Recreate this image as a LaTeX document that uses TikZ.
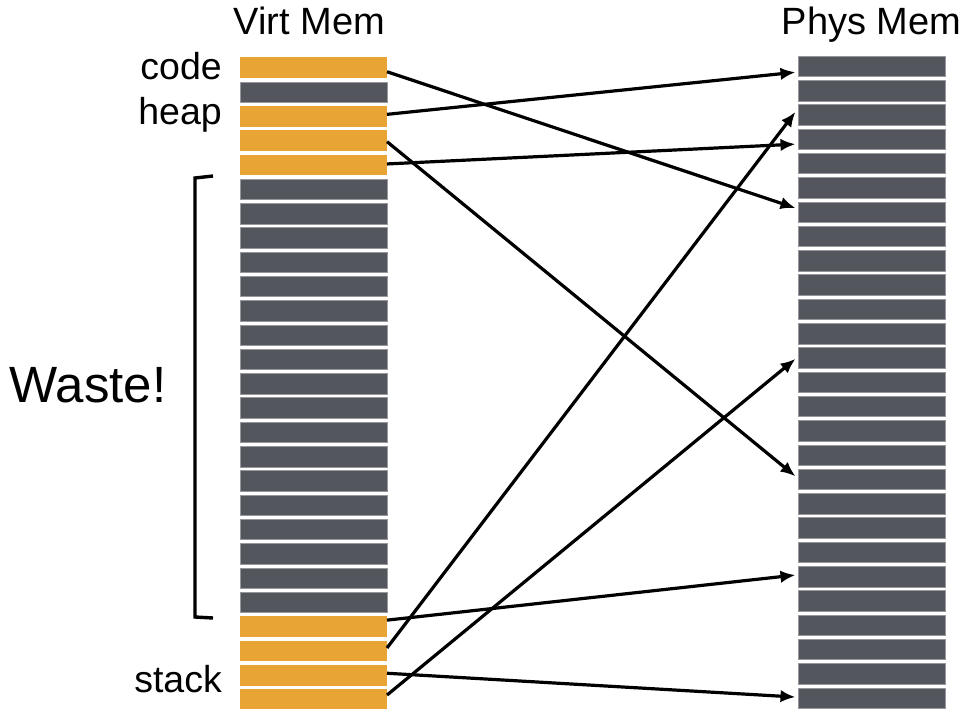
\documentclass[tikz,border=0pt]{standalone}
\usepackage{fontspec}
\setmainfont{Liberation Sans}
\usetikzlibrary{arrows.meta}
\definecolor{pageorange}{RGB}{233,165,52}
\definecolor{pagegray}{RGB}{83,87,93}
\definecolor{pageedge}{RGB}{150,152,156}
\begin{document}
\begin{tikzpicture}[x=1pt,y=-1pt,
  rowbox/.style={rectangle, inner sep=0pt, outer sep=0pt,
    minimum width=147pt, minimum height=20.5pt},
  used/.style={rowbox, fill=pageorange},
  free/.style={rowbox, fill=pagegray, draw=pageedge, line width=0.5pt},
  title/.style={inner sep=0pt, font=\fontsize{38}{40}\selectfont, anchor=base},
  seglabel/.style={inner sep=0pt, font=\fontsize{37.5}{40}\selectfont, anchor=base east},
  link/.style={line width=3.2pt, -{Latex[length=15pt,width=12.5pt]}}]
\useasboundingbox (0,0) rectangle (969,709);

% virtual memory column: code, gap, heap (3 pages), unused, stack (4 pages)
\foreach \i in {0,...,26} {
  \pgfmathtruncatemacro{\isused}{(\i==0)||(\i>=2 && \i<=4)||(\i>=23)}
  \ifnum\isused=1
    \node[used] (v\i) at (313.5, 67.75+24.3*\i) {};
  \else
    \node[free] (v\i) at (313.5, 67.75+24.3*\i) {};
  \fi
}

% physical memory column
\foreach \i in {0,...,26} {
  \node[free] (p\i) at (872, 66.25+24.3*\i) {};
}

% titles and segment labels
\node[title] (vt) at (309.5,35) {Virt Mem};
\node[title] (pt) at (871.5,35) {Phys Mem};
\node[seglabel] (lcode) at (222,79) {code};
\node[seglabel] (lheap) at (222,124) {heap};
\node[seglabel] (lstack) at (222,692.7) {stack};
\node[inner sep=0pt, font=\fontsize{51}{54}\selectfont, anchor=base] (lwaste) at (88,402) {Waste!};

% bracket around the unused range
\draw[line width=3.4pt] (213,176) -- (195,178) -- (195,617) -- (213,618);

% page mappings
\draw[link] ([yshift=-4pt]v0.east) -- ([xshift=-3pt,yshift=4pt]p6.west);
\draw[link] ([yshift=2pt]v2.east) -- ([xshift=-3pt,yshift=-6pt]p0.west);
\draw[link] ([yshift=-1pt]v3.east) -- ([xshift=-3pt,yshift=3pt]p17.west);
\draw[link] ([yshift=1pt]v4.east) -- ([xshift=-3pt,yshift=-5pt]p3.west);
\draw[link] ([yshift=6.5pt]v23.east) -- ([xshift=-3pt,yshift=1.5pt]p21.west);
\draw[link] ([yshift=3pt]v24.east) -- ([xshift=-3pt,yshift=3pt]p2.west);
\draw[link] ([yshift=2pt]v25.east) -- ([xshift=-3pt,yshift=1pt]p26.west);
\draw[link] ([yshift=4.5pt]v26.east) -- ([xshift=-3pt,yshift=-1pt]p12.west);
\end{tikzpicture}
\end{document}
